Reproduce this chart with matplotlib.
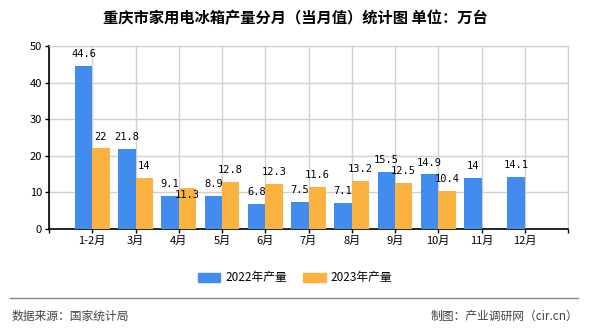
import matplotlib
matplotlib.use("Agg")
import matplotlib.pyplot as plt
from matplotlib.patches import Patch
from matplotlib.lines import Line2D

plt.rcParams['font.family'] = ['Noto Sans CJK SC', 'DejaVu Sans']

categories = ['1-2月', '3月', '4月', '5月', '6月', '7月', '8月', '9月', '10月', '11月', '12月']
values_2022 = [44.6, 21.8, 9.1, 8.9, 6.8, 7.5, 7.1, 15.5, 14.9, 14.0, 14.1]
values_2023 = [22, 14, 11.3, 12.8, 12.3, 11.6, 13.2, 12.5, 10.4, None, None]
series_names = ['2022年产量', '2023年产量']
yticks = [0, 10, 20, 30, 40, 50]
title = '重庆市家用电冰箱产量分月（当月值）统计图 单位：万台'
source = '数据来源：国家统计局'
credit = '制图：产业调研网（cir.cn）'

c22 = '#438CEF'
c23 = '#FCB241'
label_font = ['DejaVu Sans Mono', 'Noto Sans CJK SC']

fig = plt.figure(figsize=(5.9, 3.3), dpi=100)
ax = fig.add_axes([49/590, 1-229/330, (568-49)/590, (229-46)/330])

w = 0.4
xs = list(range(1, len(categories)+1))
ax.bar([x - w/2 for x in xs], values_2022, width=w, color=c22, zorder=3)
x23 = [x + w/2 for x, v in zip(xs, values_2023) if v is not None]
v23 = [v for v in values_2023 if v is not None]
ax.bar(x23, v23, width=w, color=c23, zorder=3)

def fmt(v):
    return ('%g' % v)

for x, v in zip(xs, values_2022):
    ax.annotate(fmt(v), (x - w/2, v), xytext=(0, 5), textcoords='offset points',
                ha='center', va='bottom', fontsize=7.5, family=label_font, zorder=5)
for x, v, vb in zip(xs, values_2023, values_2022):
    if v is None:
        continue
    if 0 < v - vb < 3:
        ax.annotate(fmt(v), (x + w/2, v), xytext=(0, -2), textcoords='offset points',
                    ha='center', va='top', fontsize=7.5, family=label_font, zorder=5)
    else:
        ax.annotate(fmt(v), (x + w/2, v), xytext=(0, 5), textcoords='offset points',
                    ha='center', va='bottom', fontsize=7.5, family=label_font, zorder=5)

ax.set_xlim(0, 12)
ax.set_ylim(0, 50)
ax.set_yticks(yticks)
ax.set_yticklabels([str(t) for t in yticks], fontsize=8)
ax.set_xticks(list(range(0, 13)))
ax.set_xticklabels([''] + categories + [''], fontsize=8)
ax.tick_params(axis='both', length=3, width=1, color='black', pad=2)
ax.grid(True, color='#d0d0d0', linewidth=1, zorder=0)
for s in ['top', 'right']:
    ax.spines[s].set_color('#d0d0d0')
for s in ['left', 'bottom']:
    ax.spines[s].set_color('black')
    ax.spines[s].set_linewidth(1.2)
ax.set_axisbelow(True)

fig.text(0.5, 1-18/330, title, ha='center', va='center', fontsize=11, fontweight='bold')

handles = [Patch(color=c22), Patch(color=c23)]
fig.legend(handles, series_names, loc='center', bbox_to_anchor=(0.5, 1-278/330),
           ncol=2, frameon=False, fontsize=8.5, handlelength=1.9, handleheight=0.8,
           columnspacing=1.4, handletextpad=0.4)

fig.add_artist(Line2D([10/590, 578/590], [1-298/330, 1-298/330], color='#888888', linewidth=1))
fig.text(12/590, 1-316/330, source, ha='left', va='center', fontsize=8.5, color='#444444')
fig.text(578/590, 1-316/330, credit, ha='right', va='center', fontsize=8.5, color='#444444')

fig.savefig('out.png', dpi=100)
